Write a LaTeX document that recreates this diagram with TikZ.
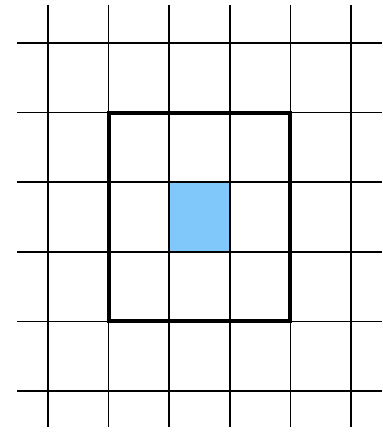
\documentclass[tikz,border=0pt]{standalone}
\usepackage{tikz}
\usetikzlibrary{positioning}
\usepackage{xcolor}
\definecolor{cellblue}{HTML}{80C8FA}

\begin{document}
\begin{tikzpicture}[x=30.3pt, y=-34.8pt]
        \useasboundingbox (-0.792,-0.618) rectangle (5.528,5.618);

        % Highlighted cell
        \fill[cellblue] (2,2) rectangle (3,3);

        % Grid lines
        \foreach \i in {0,...,5} {
            \draw[line width=0.8pt] (\i,-0.55) -- (\i,5.52);
            \draw[line width=0.8pt] (-0.51,\i) -- (5.51,\i);
        }

        % Window around the cell
        \coordinate (wintl) at (1,1);
        \coordinate (winbr) at (4,4);
        \draw[line width=2pt] (wintl) rectangle (winbr);
    \end{tikzpicture}
\end{document}
